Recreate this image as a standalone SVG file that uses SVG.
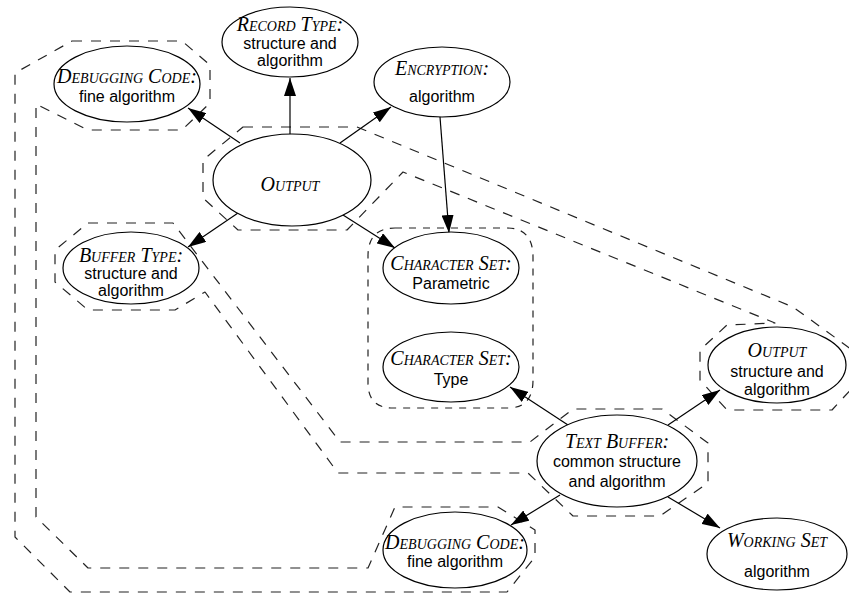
<svg xmlns="http://www.w3.org/2000/svg" width="849" height="594" viewBox="0 0 849 594">
<style>
.n{fill:#fff;stroke:#000;stroke-width:1.2}
.t{font-family:"Liberation Serif",serif;font-style:italic;font-variant:small-caps;font-size:20px;text-anchor:middle;fill:#000}
.b{font-family:"Liberation Sans",Arial,sans-serif;font-size:16px;text-anchor:middle;fill:#000}
.hull{fill:none;stroke:#222;stroke-width:1.2;stroke-dasharray:10 9;stroke-linejoin:round}
.grp{fill:none;stroke:#222;stroke-width:1.2;stroke-dasharray:7 7}
.e{fill:none;stroke:#000;stroke-width:1.2;marker-end:url(#ah)}
</style>
<defs>
<marker id="ah" markerUnits="userSpaceOnUse" markerWidth="18" markerHeight="12" refX="18" refY="6" orient="auto">
<path d="M0,0 L18,6 L0,12 z" fill="#000"/>
</marker>
</defs>
<rect width="849" height="594" fill="#fff"/>
<g id="hulls">
<path class="hull" d="M72,41 L182,41 L210,65 L210,103 L182,130 L88,130 L36,104 L36,517 L88,568 L368,568 L395,507 L498,507 L535,530 L535,557 L507,592 L70,592 L15,537 L15,73 Z"/>
<path class="hull" d="M88,223 L173,223 L340,442 L530,442 L573,409 L662,409 L708,443 L708,483 L660,516 L573,516 L528,473 L338,473 L205,292 L175,310 L88,310 L55,282 L55,250 Z"/>
<path class="hull" d="M243,127 L357,127 L793,307 L855,352 L855,385 L832,410 L727,410 L700,380 L700,350 L727,325 L775,323 L403,172 L347,230 L238,230 L203,198 L203,160 Z"/>
<path class="grp" d="M395,228 L507,228 Q533,228 533,257 L533,380 Q533,408 508,408 L393,408 Q368,408 368,383 L368,256 Q368,228 395,228 Z"/>
</g>
<g id="connectors">
<line class="e" x1="240" y1="143" x2="188" y2="108"/>
<line class="e" x1="290" y1="134" x2="290" y2="78"/>
<line class="e" x1="340" y1="143" x2="391" y2="107"/>
<line class="e" x1="238" y1="213" x2="188" y2="247"/>
<line class="e" x1="343" y1="215" x2="395" y2="248"/>
<line class="e" x1="440" y1="117" x2="449" y2="233"/>
<line class="e" x1="568" y1="425" x2="510" y2="387"/>
<line class="e" x1="668" y1="425" x2="720" y2="390"/>
<line class="e" x1="560" y1="495" x2="511" y2="525"/>
<line class="e" x1="668" y1="497" x2="720" y2="528"/>
</g>
<g id="debug-top">
<ellipse class="n" cx="127" cy="84" rx="73" ry="38"/>
<text class="t" x="127" y="83">Debugging Code:</text>
<text class="b" x="127" y="102">fine algorithm</text>
</g>
<g id="record-type">
<ellipse class="n" cx="290" cy="42" rx="68" ry="35"/>
<text class="t" x="290" y="31">Record Type:</text>
<text class="b" x="290" y="49">structure and</text>
<text class="b" x="290" y="66">algorithm</text>
</g>
<g id="encryption">
<ellipse class="n" cx="442" cy="82" rx="68" ry="35"/>
<text class="t" x="442" y="75">Encryption:</text>
<text class="b" x="442" y="102">algorithm</text>
</g>
<g id="output">
<ellipse class="n" cx="292" cy="180" rx="79" ry="46"/>
<text class="t" x="290" y="191">Output</text>
</g>
<g id="buffer-type">
<ellipse class="n" cx="131" cy="268" rx="68" ry="36"/>
<text class="t" x="131" y="262">Buffer Type:</text>
<text class="b" x="131" y="279">structure and</text>
<text class="b" x="131" y="296">algorithm</text>
</g>
<g id="charset-param">
<ellipse class="n" cx="451" cy="268" rx="68" ry="36"/>
<text class="t" x="451" y="270">Character Set:</text>
<text class="b" x="451" y="289">Parametric</text>
</g>
<g id="charset-type">
<ellipse class="n" cx="451" cy="367" rx="68" ry="35"/>
<text class="t" x="451" y="365">Character Set:</text>
<text class="b" x="451" y="385">Type</text>
</g>
<g id="output-right">
<ellipse class="n" cx="777" cy="365" rx="69" ry="38"/>
<text class="t" x="777" y="357">Output</text>
<text class="b" x="777" y="377">structure and</text>
<text class="b" x="777" y="395">algorithm</text>
</g>
<g id="text-buffer">
<ellipse class="n" cx="617" cy="461" rx="80" ry="46"/>
<text class="t" x="617" y="448">Text Buffer:</text>
<text class="b" x="617" y="467">common structure</text>
<text class="b" x="617" y="487">and algorithm</text>
</g>
<g id="debug-bottom">
<ellipse class="n" cx="455" cy="550" rx="72" ry="38"/>
<text class="t" x="455" y="549">Debugging Code:</text>
<text class="b" x="455" y="567">fine algorithm</text>
</g>
<g id="working-set">
<ellipse class="n" cx="777" cy="554" rx="70" ry="36"/>
<text class="t" x="777" y="547">Working Set</text>
<text class="b" x="777" y="577">algorithm</text>
</g>
</svg>
